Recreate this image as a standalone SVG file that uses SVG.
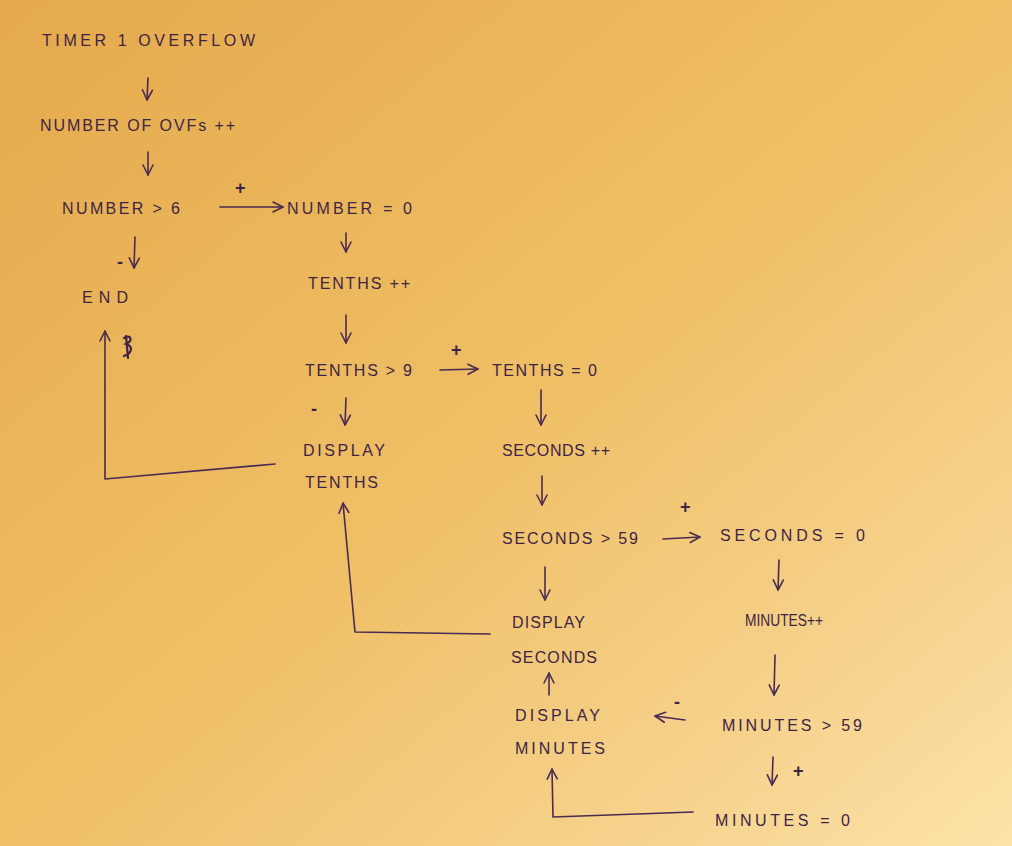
<svg xmlns="http://www.w3.org/2000/svg" width="1012" height="846" viewBox="0 0 1012 846">
  <defs>
    <linearGradient id="paper" x1="0" y1="0" x2="1" y2="1">
      <stop offset="0" stop-color="#e5a94c"/>
      <stop offset="0.5" stop-color="#efbf66"/>
      <stop offset="0.8" stop-color="#f6d28c"/>
      <stop offset="1" stop-color="#fde2a8"/>
    </linearGradient>
    <marker id="head" viewBox="0 0 12 12" refX="11" refY="6" markerWidth="12" markerHeight="12" markerUnits="userSpaceOnUse" orient="auto">
      <polyline points="1,1 11,6 1,11" fill="none" stroke="#4a2a52" stroke-width="1.6" stroke-linecap="round" stroke-linejoin="round"/>
    </marker>
  </defs>
  <style>
    text { font-family: "Liberation Sans", "DejaVu Sans", sans-serif; font-size: 16px; fill: #3d2446; }
    .sign { font-size: 18px; font-weight: bold; }
    .arrow { fill: none; stroke: #4a2a52; stroke-width: 1.6; stroke-linecap: round; marker-end: url(#head); }
    .loop { fill: none; stroke: #4a2a52; stroke-width: 1.6; stroke-linecap: round; stroke-linejoin: round; marker-end: url(#head); }
  </style>

  <rect width="1012" height="846" fill="url(#paper)"/>

  <!-- nodes -->
  <g id="timer-overflow"><text x="42" y="46" textLength="213" lengthAdjust="spacing">TIMER 1 OVERFLOW</text></g>
  <g id="count-ovfs"><text x="40" y="131" textLength="195" lengthAdjust="spacing">NUMBER OF OVFs ++</text></g>
  <g id="number-check"><text x="62" y="214" textLength="118" lengthAdjust="spacing">NUMBER &gt; 6</text></g>
  <g id="number-reset"><text x="287" y="214" textLength="125" lengthAdjust="spacing">NUMBER = 0</text></g>
  <g id="end"><text x="82" y="303" textLength="46" lengthAdjust="spacing">END</text></g>
  <g id="tenths-inc"><text x="308" y="289" textLength="102" lengthAdjust="spacing">TENTHS ++</text></g>
  <g id="tenths-check"><text x="305" y="376" textLength="107" lengthAdjust="spacing">TENTHS &gt; 9</text></g>
  <g id="tenths-reset"><text x="492" y="376" textLength="105" lengthAdjust="spacing">TENTHS = 0</text></g>
  <g id="display-tenths">
    <text x="303" y="456" textLength="82" lengthAdjust="spacing">DISPLAY</text>
    <text x="305" y="488" textLength="73" lengthAdjust="spacing">TENTHS</text>
  </g>
  <g id="seconds-inc"><text x="502" y="456" textLength="108" lengthAdjust="spacing">SECONDS ++</text></g>
  <g id="seconds-check"><text x="502" y="544" textLength="136" lengthAdjust="spacing">SECONDS &gt; 59</text></g>
  <g id="seconds-reset"><text x="720" y="541" textLength="145" lengthAdjust="spacing">SECONDS = 0</text></g>
  <g id="display-seconds">
    <text x="512" y="628" textLength="73" lengthAdjust="spacing">DISPLAY</text>
    <text x="511" y="663" textLength="86" lengthAdjust="spacing">SECONDS</text>
  </g>
  <g id="minutes-inc"><text x="745" y="626" textLength="78" lengthAdjust="spacingAndGlyphs">MINUTES++</text></g>
  <g id="minutes-check"><text x="722" y="731" textLength="140" lengthAdjust="spacing">MINUTES &gt; 59</text></g>
  <g id="display-minutes">
    <text x="515" y="721" textLength="85" lengthAdjust="spacing">DISPLAY</text>
    <text x="515" y="754" textLength="90" lengthAdjust="spacing">MINUTES</text>
  </g>
  <g id="minutes-reset"><text x="715" y="826" textLength="135" lengthAdjust="spacing">MINUTES = 0</text></g>

  <!-- branch signs -->
  <g id="signs">
    <text class="sign" x="235" y="194">+</text>
    <text class="sign" x="117" y="268">-</text>
    <text class="sign" x="451" y="356">+</text>
    <text class="sign" x="311" y="415">-</text>
    <text class="sign" x="680" y="513">+</text>
    <text class="sign" x="674" y="708">-</text>
    <text class="sign" x="793" y="777">+</text>
  </g>

  <!-- connectors -->
  <g id="connectors">
    <path class="arrow" d="M148 78 L147 100"/>
    <path class="arrow" d="M148 152 L148 175"/>
    <path class="arrow" d="M220 207 L283 207"/>
    <path class="arrow" d="M135 237 L134 268"/>
    <path class="arrow" d="M346 233 L346 252"/>
    <path class="arrow" d="M346 315 L346 343"/>
    <path class="arrow" d="M440 370 L478 369"/>
    <path class="arrow" d="M346 398 L345 425"/>
    <path class="loop" d="M275 464 L105 479 L105 331"/>
    <path class="arrow" d="M541 390 L541 425"/>
    <path class="arrow" d="M542 476 L542 505"/>
    <path class="arrow" d="M663 539 L700 537"/>
    <path class="arrow" d="M779 560 L778 590"/>
    <path class="arrow" d="M545 567 L545 600"/>
    <path class="loop" d="M490 634 L355 632 L343 503"/>
    <path class="arrow" d="M775 655 L774 695"/>
    <path class="arrow" d="M685 720 L655 716"/>
    <path class="arrow" d="M549 695 L549 673"/>
    <path class="arrow" d="M773 757 L772 785"/>
    <path class="loop" d="M693 812 L553 817 L552 769"/>
    <!-- scribbled-out mark beside the END return line -->
    <path d="M124 338 C130 334 134 340 126 344 C132 346 134 352 124 356 M126 336 L128 358" fill="none" stroke="#3d2446" stroke-width="2.2" stroke-linecap="round"/>
  </g>
</svg>
